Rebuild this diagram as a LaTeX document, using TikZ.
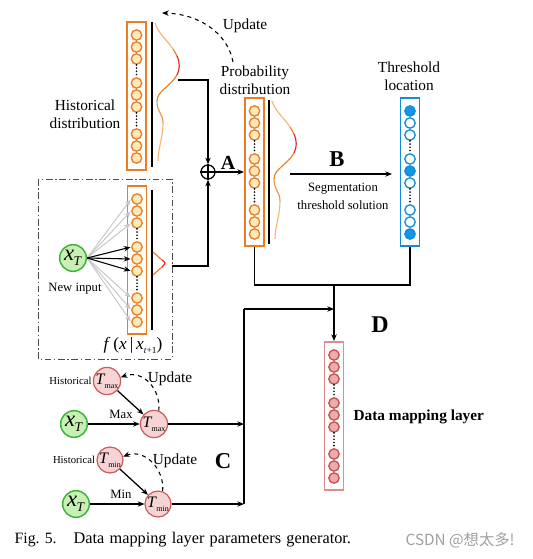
\documentclass[tikz,border=0pt]{standalone}
\usepackage{fontspec}
\setmainfont{Liberation Serif}
\newfontfamily\cjkf{Noto Sans CJK SC}
\usetikzlibrary{arrows.meta}
\definecolor{orangeB}{RGB}{235,125,35}
\definecolor{orangeF}{RGB}{253,233,185}
\definecolor{waveL}{RGB}{245,180,120}
\definecolor{waveR}{RGB}{230,30,30}
\definecolor{blueB}{RGB}{20,140,220}
\definecolor{blueF}{RGB}{20,150,230}
\definecolor{redB}{RGB}{200,80,80}
\definecolor{redF}{RGB}{236,172,172}
\definecolor{redBox}{RGB}{225,140,140}
\definecolor{greenB}{RGB}{60,180,60}
\definecolor{greenF}{RGB}{200,240,180}
\definecolor{tF}{RGB}{246,212,212}
\definecolor{tB}{RGB}{205,90,90}
\newcommand\xTlab{\fontsize{17}{17}\selectfont\textit{x}\kern-0.5pt\raisebox{-0.45ex}{\fontsize{10}{10}\selectfont\textit{T}}}
\newcommand\Tlab[1]{\fontsize{12}{12}\selectfont\textit{T}\kern-0.5pt\raisebox{-0.55ex}{\fontsize{6}{6}\selectfont #1}}
\newcommand\mkcol[5]{%
  \node[colbox, draw=#4] (#1) at (#2,#3) {};
  \foreach \o [count=\i] in {14,26,38,62,74,86,113,125,137}
    \node[#5] (#1-\i) at (#2,#3+\o) {};
  \draw[dots] (#1-3.south) -- (#1-4.north);
  \draw[dots] (#1-6.south) -- (#1-7.north);
}
\newcommand\mkwave[2]{%
  \begin{scope}[shift={(#1,#2)}, line width=0.85pt]
    \draw[waveL] (0,0) .. controls (3,10) and (12,17) .. (18,26);
    \draw[orangeB] (18,26) .. controls (20,29) and (21,31) .. (22,33);
    \draw[waveR] (22,33) .. controls (25,40) and (25,46) .. (22,52);
    \draw[orangeB] (22,52) .. controls (15,64) and (2,68) .. (2,78);
    \draw[orangeB!60!waveL] (2,78) .. controls (2,90) and (8,90) .. (8,100);
    \draw[waveL] (8,100) .. controls (8,115) and (3,125) .. (3,138);
  \end{scope}
}
\begin{document}
\begin{tikzpicture}[x=0.75pt,y=-0.75pt, line width=0.95pt,
  >={Stealth[length=5pt,width=4pt]},
  colbox/.style={line width=1.2pt, minimum width=14.5pt, minimum height=111pt, inner sep=0pt, anchor=north},
  circ/.style={circle, line width=1pt, minimum size=7.8pt, inner sep=0pt},
  ocirc/.style={circ, draw=orangeB, fill=orangeF},
  bcirc/.style={circ, draw=blueB, fill=white},
  bfill/.style={circ, draw=blueB, fill=blueF},
  rcirc/.style={circ, draw=redB, fill=redF},
  dots/.style={line width=1.4pt, dash pattern=on 0pt off 2.4pt, line cap=round},
  lab/.style={font=\fontsize{11.5}{13.5}\selectfont, align=center, inner sep=0pt},
  slab/.style={font=\fontsize{9.5}{13.5}\selectfont, align=center, inner sep=0pt},
  big/.style={font=\fontsize{17}{17}\selectfont\bfseries, inner sep=0pt},
  gnode/.style={circle, draw=greenB, fill=greenF, line width=1.1pt, minimum size=20pt, inner sep=0pt},
  tnode/.style={circle, draw=tB, fill=tF, line width=0.9pt, minimum size=19pt, inner sep=0pt},
]
\useasboundingbox (0,0) rectangle (532,559);

% ---- columns ----
\mkcol{hist}{136.5}{21}{orangeB}{ocirc}
\mkcol{prob}{254.5}{97}{orangeB}{ocirc}
\mkcol{nin}{137}{185}{orangeB}{ocirc}
\mkcol{dm}{334}{341}{redBox}{rcirc}
\node[colbox, draw=blueB] (thr) at (410,97) {};
\foreach \o/\s [count=\i] in {14/bfill,26/bcirc,38/bcirc,62/bcirc,74/bfill,86/bcirc,113/bcirc,125/bcirc,137/bfill}
  \node[\s] (thr-\i) at (410,97+\o) {};
\draw[dots] (thr-3.south) -- (thr-4.north);
\draw[dots] (thr-6.south) -- (thr-7.north);

% ---- side bars ----
\draw (152,22) -- (152,167);
\draw (269,100) -- (269,244);
\draw (152,190) -- (152,330);

% ---- waves ----
\mkwave{155}{23}
\mkwave{272}{101}
\draw[orangeB, line width=0.85pt] (153,252) -- (162,260);
\draw[waveR, line width=0.85pt] (162,260) .. controls (166,263) .. (162,267);
\draw[orangeB, line width=0.85pt] (162,267) -- (153,275);

% ---- labels top ----
\node[lab] (lhist) at (85,114) {Historical\\distribution};
\node[lab] (lprob) at (255,80) {Probability\\distribution};
\node[lab] (lthr) at (409,76) {Threshold\\location};
\node[lab] (lupd) at (245,26) {Update};
\coordinate (u1) at (233,62);
\coordinate (u2) at (162,13);
\draw[dashed, ->, line width=0.8pt] (u1) .. controls (228,34) and (200,14) .. (u2);

% ---- plus ----
\node[circle, draw, minimum size=10.5pt, inner sep=0pt] (plus) at (208,172) {};
\draw (plus.north) -- (plus.south) (plus.west) -- (plus.east);
\coordinate (hw) at (178,80);
\draw[->] (hw) -| (plus.north);
\draw[->] (plus.east) -- (prob.west |- plus.east);
\node[big, font=\fontsize{15}{15}\selectfont\bfseries] (la) at (228,163) {A};

% ---- B ----
\coordinate (b1) at (290,174);
\draw[->] (b1) -- (392,174) coordinate (b2);
\node[big] (lb) at (337,159) {B};
\node[slab] (lseg) at (343,196) {Segmentation\\threshold solution};

% ---- new input box ----
\draw[gray!60!black, line width=0.7pt, dash pattern=on 5pt off 2pt on 1pt off 2pt] (38,179) rectangle (172,359);
\node[gnode] (xt) at (73,258) {\xTlab};
\node[slab] (lnew) at (75,289) {New input};
\foreach \i in {1,2,3,7,8,9}
  \draw[->, gray!45, line width=0.7pt, shorten >=0.5pt] (xt.east) -- (nin-\i.west);
\foreach \i in {4,5,6}
  \draw[->, line width=0.8pt, shorten >=0.5pt] (xt.east) -- (nin-\i.west);
\node[inner sep=0pt, font=\fontsize{13}{13}\selectfont] (lf) at (133,345) {\textit{f}\,(\textit{x}\,|\,\textit{x}\raisebox{-0.5ex}{\fontsize{7}{7}\selectfont\textit{t}+1})};
\coordinate (nb) at (172,266);
\draw[->] (nb) -| (plus.south);

% ---- right connectors ----
\coordinate (j1) at (334,285);
\draw (prob.south) |- (j1);
\draw (thr.south) |- (j1);
\draw[->] (j1) -- (dm.north);
\node[big, font=\fontsize{18}{18}\selectfont\bfseries] (ld) at (380,325) {D};
\node[font=\fontsize{11.5}{13.5}\selectfont\bfseries, anchor=west, inner sep=0pt] (ldm) at (353,417) {Data mapping layer};

\coordinate (ct) at (244,309);
\coordinate (c0) at (244,424);
\coordinate (c1) at (244,504);
\coordinate (j2) at (334,309);
\draw (c1) -- (ct);
\draw[->] (ct) -- (j2);

% ---- bottom left ----
\node[tnode] (hmax) at (107,381) {\Tlab{max}};
\node[anchor=east, inner sep=0.5pt, font=\fontsize{8}{8}\selectfont] (lhmax) at (hmax.west) {Historical};
\node[tnode] (tmax) at (154,424) {\Tlab{max}};
\node[gnode] (xt1) at (74,424) {\xTlab};
\draw[->] (xt1) -- (tmax);
\node[slab] (lmax) at (121,414) {Max};
\draw[->] (hmax) -- (tmax);
\draw[dashed, ->, line width=0.8pt] (tmax.70) .. controls +(2,-22) and +(22,-8) .. (hmax.15);
\node[lab] (lup1) at (170,379) {Update};
\draw[->] (tmax.east) -- (c0);

\node[tnode] (hmin) at (110,460) {\Tlab{min}};
\node[anchor=east, inner sep=0.5pt, font=\fontsize{8}{8}\selectfont] (lhmin) at (hmin.west) {Historical};
\node[tnode] (tmin) at (158,504) {\Tlab{min}};
\node[gnode] (xt2) at (76,504) {\xTlab};
\draw[->] (xt2) -- (tmin);
\node[slab] (lmin) at (121,494) {Min};
\draw[->] (hmin) -- (tmin);
\draw[dashed, ->, line width=0.8pt] (tmin.70) .. controls +(2,-22) and +(22,-8) .. (hmin.15);
\node[lab] (lup2) at (175,461) {Update};
\node[big] (lc) at (223,461) {C};
\draw[->] (tmin.east) -- (c1);

% ---- caption ----
\node[anchor=west, inner sep=0pt, font=\fontsize{11.8}{13}\selectfont] (cap1) at (14,540) {Fig. 5.};
\node[anchor=west, inner sep=0pt, font=\fontsize{12.2}{13}\selectfont, text width=208pt, align=justify] (cap2) at (73,540) {Data\hfill mapping\hfill layer\hfill parameters\hfill generator.};
\node[anchor=west, inner sep=0pt, text=gray!75, font=\cjkf\fontsize{11.5}{13}\selectfont] (wm) at (405,540) {CSDN @想太多!};
\end{tikzpicture}
\end{document}
